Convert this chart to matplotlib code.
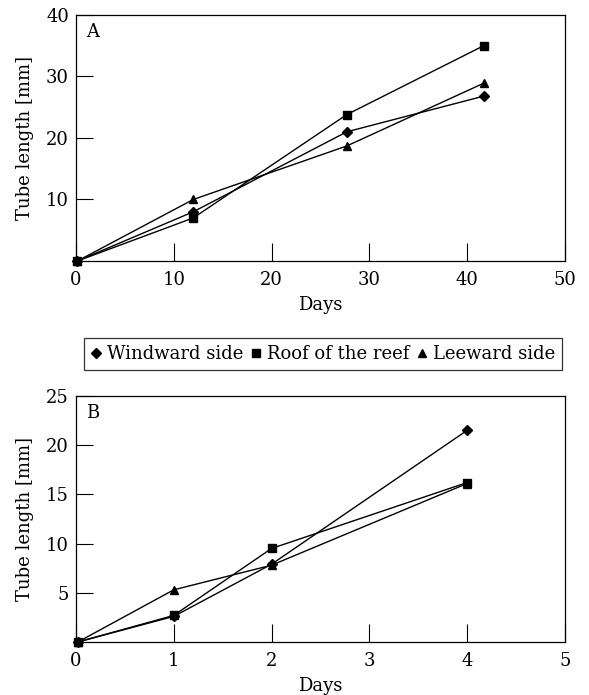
import matplotlib.pyplot as plt
from matplotlib.lines import Line2D

# dados
dias_a = [0.15, 12, 27.7, 41.7]
barlavento_a = [0, 8, 21, 26.8]
teto_a = [0, 7, 23.8, 35]
sotavento_a = [0, 10, 18.7, 28.9]

dias_b = [0.02, 1, 2, 4]
barlavento_b = [0, 2.6, 7.9, 21.5]
teto_b = [0, 2.7, 9.5, 16.2]
sotavento_b = [0, 5.3, 7.8, 16.1]

nomes = ['Windward side', 'Roof of the reef', 'Leeward side']
marcadores = ['D', 's', '^']

plt.rcParams['font.family'] = 'DejaVu Serif'
plt.rcParams['font.size'] = 13

fig = plt.figure(figsize=(5.89, 6.95), dpi=100)


def desenha(ax, dias, series, xmax, ymax, yticks, letra):
    for valores, m in zip(series, marcadores):
        ms = 5.5 if m == 'D' else 6
        ax.plot(dias, valores, color='black', lw=1, marker=m, ms=ms,
                clip_on=False, zorder=3)
    ax.set_xlim(0, xmax)
    ax.set_ylim(0, ymax)
    ax.set_xticks([xmax / 5 * i for i in range(6)])
    ax.set_xticklabels([str(int(xmax / 5 * i)) for i in range(6)])
    ax.set_yticks(yticks)
    ax.tick_params(axis='x', direction='in', length=13, width=0.8, pad=7)
    ax.tick_params(axis='y', direction='in', length=12, width=0.8, pad=5)
    for s in ax.spines.values():
        s.set_linewidth(0.9)
    ax.set_xlabel('Days', labelpad=5)
    ax.set_ylabel('Tube length [mm]', labelpad=9)
    ax.text(0.02, 0.93, letra, transform=ax.transAxes, ha='left', va='center')


ax1 = fig.add_axes([0.129, 0.6245, 0.83, 0.354])
desenha(ax1, dias_a, [barlavento_a, teto_a, sotavento_a], 50, 40,
        [10, 20, 30, 40], 'A')

ax2 = fig.add_axes([0.129, 0.0763, 0.83, 0.354])
desenha(ax2, dias_b, [barlavento_b, teto_b, sotavento_b], 5, 25,
        [5, 10, 15, 20, 25], 'B')

handles = [Line2D([], [], color='black', marker=m, ls='none', ms=5.5)
           for m in marcadores]
leg = fig.legend(handles, nomes, loc='center', bbox_to_anchor=(0.549, 0.4906),
                 ncol=3, frameon=True, fancybox=False, edgecolor='black',
                 handlelength=0.5, handletextpad=0.35, columnspacing=0.45,
                 borderpad=0.4, borderaxespad=0)
leg.get_frame().set_linewidth(0.9)

fig.savefig('out.png', dpi=100)
